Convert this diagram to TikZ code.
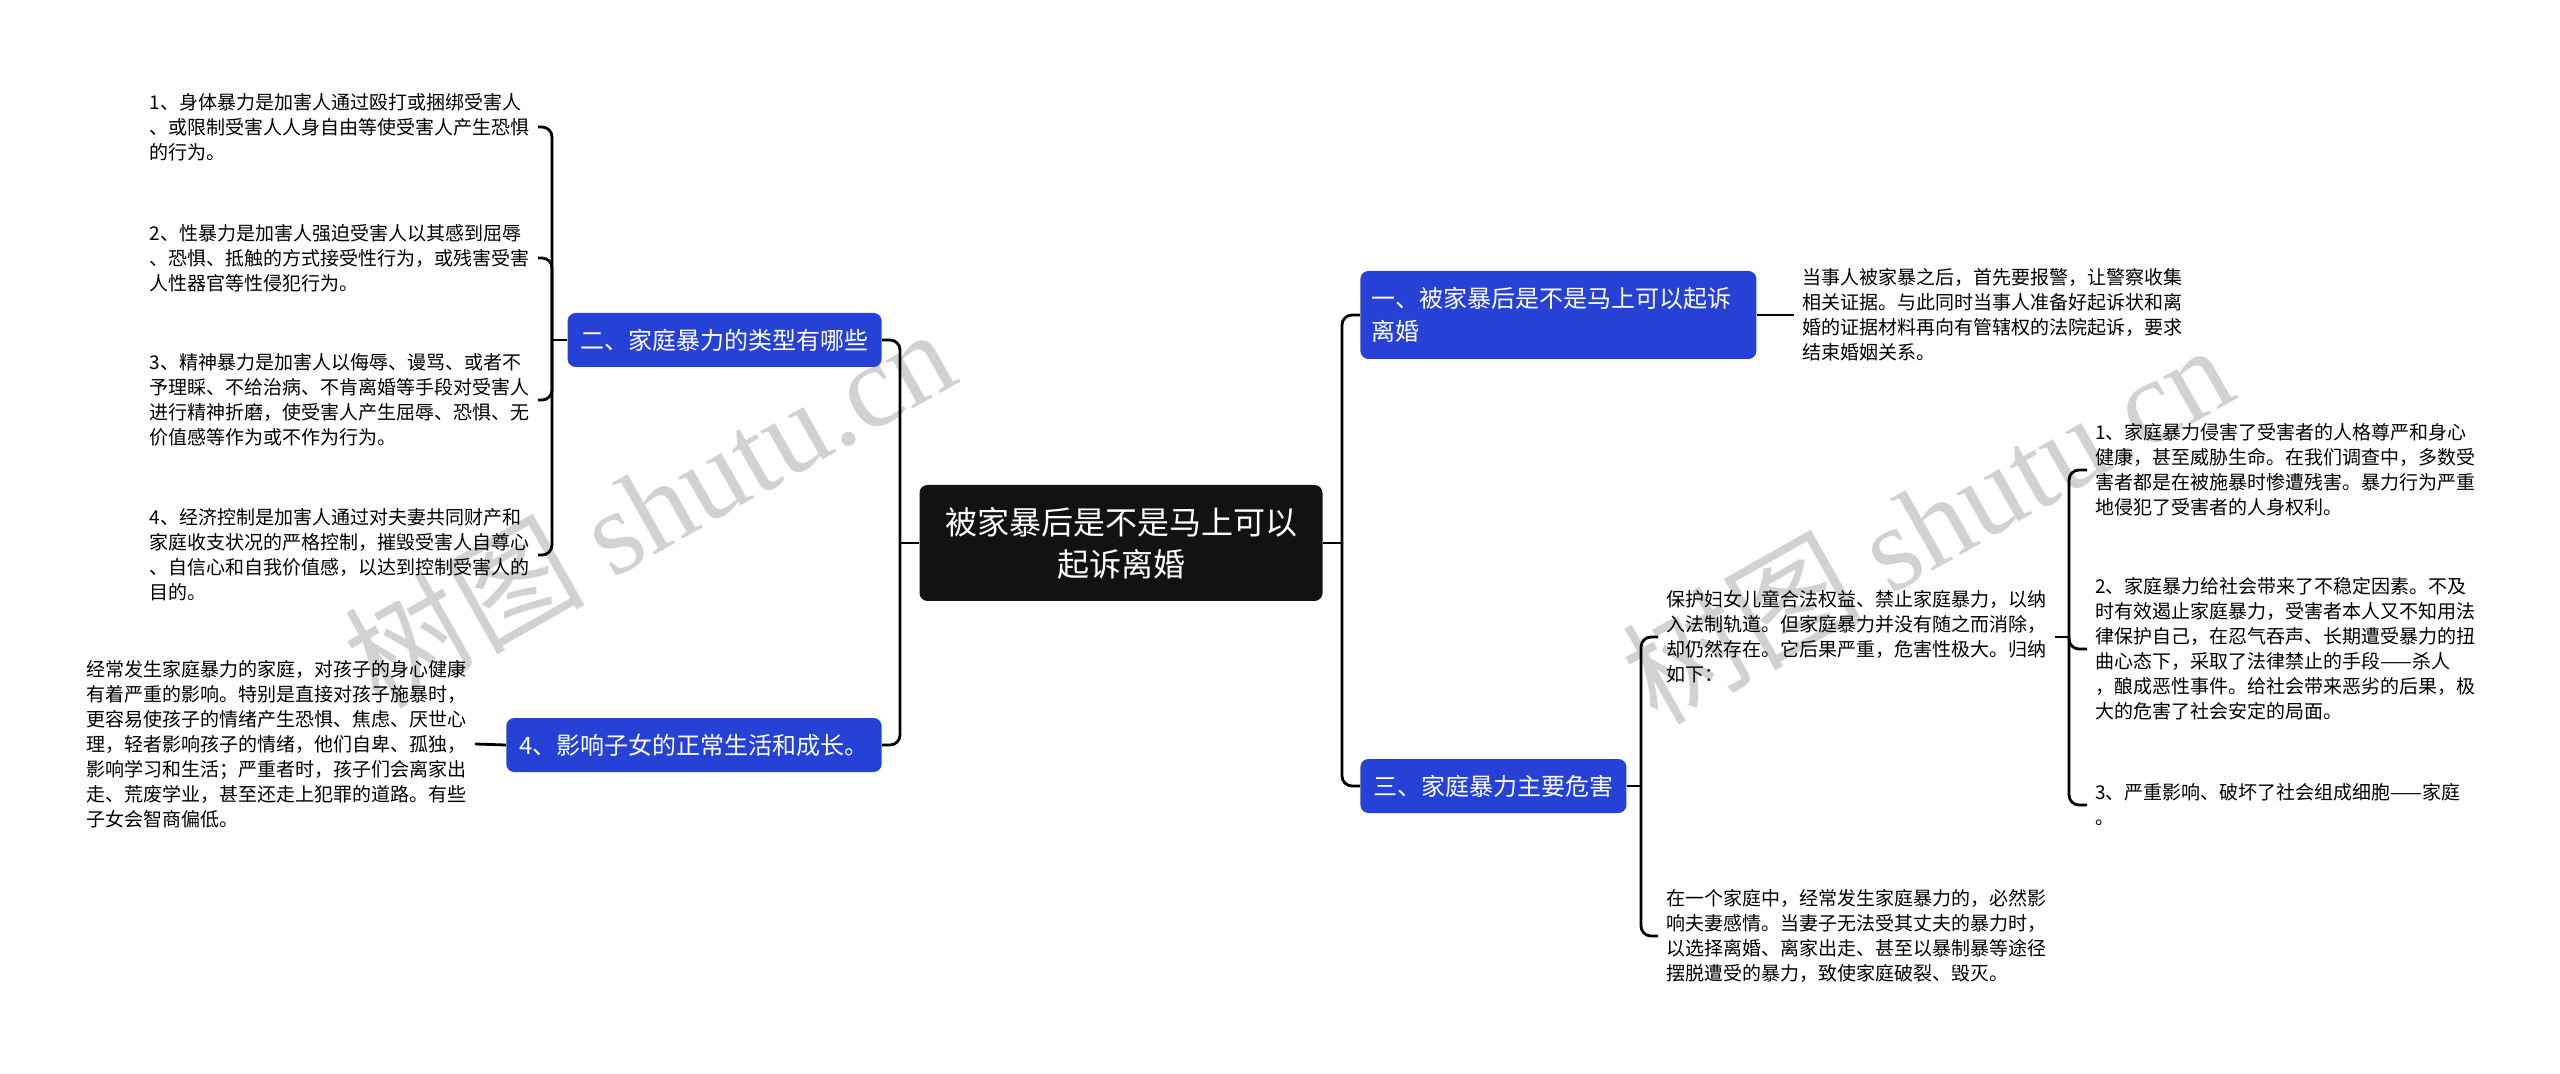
\documentclass[tikz,border=0pt]{standalone}
\usepackage{fontspec}
\setmainfont{Noto Sans CJK SC}
\newfontfamily\wmserif{Liberation Serif}
\usepackage{xcolor}
\usepackage{tikz}
\definecolor{branchblue}{RGB}{38,66,214}
\definecolor{rootblack}{RGB}{18,18,18}
\definecolor{markgray}{RGB}{210,210,210}

\begin{document}
\begin{tikzpicture}[x=0.5pt,y=-0.5pt,
	rootbox/.style={fill=rootblack,text=white,rounded corners=4pt,align=center,minimum width=201.5pt,minimum height=58pt,font=\fontsize{16pt}{21pt}\selectfont},
	branch/.style={fill=branchblue,text=white,rounded corners=4pt,align=left,minimum height=27pt,inner xsep=6.5pt,font=\fontsize{12pt}{16.5pt}\selectfont},
	leaf/.style={align=left,inner xsep=4pt,inner ysep=2pt,font=\fontsize{9.5pt}{12.5pt}\selectfont},
	link/.style={line width=1.4pt,rounded corners=5pt},
	wmark/.style={text=markgray,rotate=29.5,font=\fontsize{60pt}{60pt}\selectfont}]
		\useasboundingbox (0,0) rectangle (2560,1074);
		\node[wmark] (wm1) at (649,506) {树图 {\wmserif shutu.cn}};
		\node[wmark] (wm2) at (1927,522) {树图 {\wmserif shutu.cn}};
		\node[rootbox] (root) at (1121,543) {被家暴后是不是马上可以\\起诉离婚};
		\node[branch,anchor=east] (b2) at (882,340) {二、家庭暴力的类型有哪些};
		\node[branch,anchor=east] (b4) at (882,745) {4、影响子女的正常生活和成长。};
		\node[branch,anchor=west,text width=187pt,inner xsep=5.5pt,minimum height=44pt] (b1) at (1360,315) {一、被家暴后是不是马上可以起诉\\离婚};
		\node[branch,anchor=west] (b3) at (1360,786) {三、家庭暴力主要危害};
		\node[leaf,anchor=east] (l1) at (538,127) {1、身体暴力是加害人通过殴打或捆绑受害人\\、或限制受害人人身自由等使受害人产生恐惧\\的行为。};
		\node[leaf,anchor=east] (l2) at (538,258) {2、性暴力是加害人强迫受害人以其感到屈辱\\、恐惧、抵触的方式接受性行为，或残害受害\\人性器官等性侵犯行为。};
		\node[leaf,anchor=east] (l3) at (538,400) {3、精神暴力是加害人以侮辱、谩骂、或者不\\予理睬、不给治病、不肯离婚等手段对受害人\\进行精神折磨，使受害人产生屈辱、恐惧、无\\价值感等作为或不作为行为。};
		\node[leaf,anchor=east] (l4) at (538,555) {4、经济控制是加害人通过对夫妻共同财产和\\家庭收支状况的严格控制，摧毁受害人自尊心\\、自信心和自我价值感，以达到控制受害人的\\目的。};
		\node[leaf,anchor=east] (l5) at (475,744) {经常发生家庭暴力的家庭，对孩子的身心健康\\有着严重的影响。特别是直接对孩子施暴时，\\更容易使孩子的情绪产生恐惧、焦虑、厌世心\\理，轻者影响孩子的情绪，他们自卑、孤独，\\影响学习和生活；严重者时，孩子们会离家出\\走、荒废学业，甚至还走上犯罪的道路。有些\\子女会智商偏低。};
		\node[leaf,anchor=west] (r1) at (1794,315) {当事人被家暴之后，首先要报警，让警察收集\\相关证据。与此同时当事人准备好起诉状和离\\婚的证据材料再向有管辖权的法院起诉，要求\\结束婚姻关系。};
		\node[leaf,anchor=west] (ra) at (1658,637) {保护妇女儿童合法权益、禁止家庭暴力，以纳\\入法制轨道。但家庭暴力并没有随之而消除，\\却仍然存在。它后果严重，危害性极大。归纳\\如下：};
		\node[leaf,anchor=west] (rb) at (1658,936) {在一个家庭中，经常发生家庭暴力的，必然影\\响夫妻感情。当妻子无法受其丈夫的暴力时，\\以选择离婚、离家出走、甚至以暴制暴等途径\\摆脱遭受的暴力，致使家庭破裂、毁灭。};
		\node[leaf,anchor=west] (ra1) at (2087,470) {1、家庭暴力侵害了受害者的人格尊严和身心\\健康，甚至威胁生命。在我们调查中，多数受\\害者都是在被施暴时惨遭残害。暴力行为严重\\地侵犯了受害者的人身权利。};
		\node[leaf,anchor=west] (ra2) at (2087,649) {2、家庭暴力给社会带来了不稳定因素。不及\\时有效遏止家庭暴力，受害者本人又不知用法\\律保护自己，在忍气吞声、长期遭受暴力的扭\\曲心态下，采取了法律禁止的手段——杀人\\，酿成恶性事件。给社会带来恶劣的后果，极\\大的危害了社会安定的局面。};
		\node[leaf,anchor=west] (ra3) at (2087,805) {3、严重影响、破坏了社会组成细胞——家庭\\。};
		\coordinate (tl) at (900,543);
		\coordinate (tr) at (1342,543);
		\coordinate (t2) at (552,340);
		\coordinate (t3) at (1641,786);
		\coordinate (ta) at (2069,637);
		\draw[link] (root.west) -- (tl);
		\draw[link] (root.east) -- (tr);
		\foreach \n in {b2,b4} \draw[link] (tl) |- (\n.east);
		\foreach \n in {b1,b3} \draw[link] (tr) |- (\n.west);
		\draw[link] (b2.west) -- (t2);
		\foreach \n in {l1,l2,l3,l4} \draw[link] (t2) |- (\n.east);
		\draw[link] (b4.west) -- (l5.east);
		\draw[link] (b1.east) -- (r1.west);
		\draw[link] (b3.east) -- (t3);
		\foreach \n in {ra,rb} \draw[link] (t3) |- (\n.west);
		\draw[link] (ra.east) -- (ta);
		\foreach \n in {ra1,ra2,ra3} \draw[link] (ta) |- (\n.west);
\end{tikzpicture}
\end{document}
